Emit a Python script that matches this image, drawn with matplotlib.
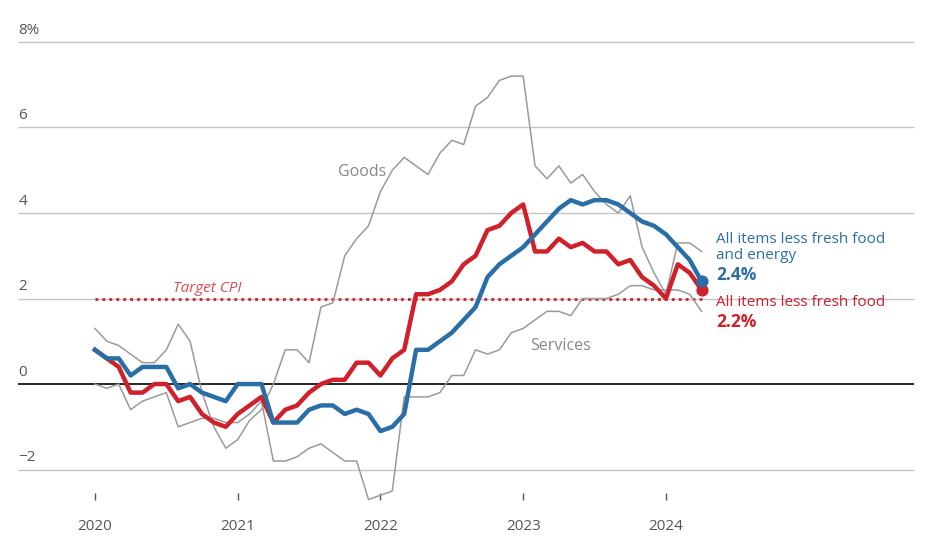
import matplotlib.pyplot as plt
import numpy as np

plt.rcParams['font.family'] = ['Open Sans', 'DejaVu Sans']

core = [0.8,0.6,0.4,-0.2,-0.2,0.0,0.0,-0.4,-0.3,-0.7,-0.9,-1.0,
        -0.7,-0.5,-0.3,-0.9,-0.6,-0.5,-0.2,0.0,0.1,0.1,0.5,0.5,
        0.2,0.6,0.8,2.1,2.1,2.2,2.4,2.8,3.0,3.6,3.7,4.0,
        4.2,3.1,3.1,3.4,3.2,3.3,3.1,3.1,2.8,2.9,2.5,2.3,
        2.0,2.8,2.6,2.2]
core_core = [0.8,0.6,0.6,0.2,0.4,0.4,0.4,-0.1,0.0,-0.2,-0.3,-0.4,
             0.0,0.0,0.0,-0.9,-0.9,-0.9,-0.6,-0.5,-0.5,-0.7,-0.6,-0.7,
             -1.1,-1.0,-0.7,0.8,0.8,1.0,1.2,1.5,1.8,2.5,2.8,3.0,
             3.2,3.5,3.8,4.1,4.3,4.2,4.3,4.3,4.2,4.0,3.8,3.7,
             3.5,3.2,2.9,2.4]
goods = [1.3,1.0,0.9,0.7,0.5,0.5,0.8,1.4,1.0,-0.2,-1.0,-1.5,
         -1.3,-0.85,-0.6,0.0,0.8,0.8,0.5,1.8,1.9,3.0,3.4,3.7,
         4.5,5.0,5.3,5.1,4.9,5.4,5.7,5.6,6.5,6.7,7.1,7.2,
         7.2,5.1,4.8,5.1,4.7,4.9,4.5,4.2,4.0,4.4,3.2,2.6,
         2.1,3.3,3.3,3.1]
services = [0.0,-0.1,0.0,-0.6,-0.4,-0.3,-0.2,-1.0,-0.9,-0.8,-0.8,-0.9,
            -0.9,-0.7,-0.4,-1.8,-1.8,-1.7,-1.5,-1.4,-1.6,-1.8,-1.8,-2.7,
            -2.6,-2.5,-0.3,-0.3,-0.3,-0.2,0.2,0.2,0.8,0.7,0.8,1.2,
            1.3,1.5,1.7,1.7,1.6,2.0,2.0,2.0,2.1,2.3,2.3,2.2,
            2.2,2.2,2.1,1.7]
years = [2020, 2021, 2022, 2023, 2024]
yticks = [-2, 0, 2, 4, 6, 8]
ylabels = ['\u22122', '0', '2', '4', '6', '8%']

x = 2020 + np.arange(len(core)) / 12
blue = '#2a6ea8'
red = '#d0202a'
gray = '#9a9a9a'

fig = plt.figure(figsize=(9.3, 5.47), dpi=100)
ax = fig.add_axes([0, 0, 1, 1])
ax.set_xlim(2019.335, 2025.85)
ax.set_ylim(-3.81, 8.98)
ax.axis('off')

for t, l in zip(yticks, ylabels):
    if t == 0:
        ax.hlines(t, 2019.46, 2025.74, color='black', lw=1.2, zorder=1)
    else:
        ax.hlines(t, 2019.46, 2025.74, color='#c4c4c4', lw=1, zorder=1)
    ax.text(2019.465, t + 0.1, l, fontsize=11, color='#555555', va='bottom', ha='left')

for yr in years:
    ax.vlines(yr, -2.55, -2.72, color='#555555', lw=1)
    ax.text(yr, -3.32, str(yr), fontsize=11, color='#555555', ha='center', va='center')

ax.hlines(2, 2020, 2024.25, color=red, lw=2, linestyles=(0, (1, 1.5)), zorder=2)
ax.text(2020.55, 2.05, 'Target CPI', fontsize=11, color=red, style='italic', alpha=0.8, va='bottom')

ax.plot(x, goods, color=gray, lw=1.1, zorder=3)
ax.plot(x, services, color=gray, lw=1.1, zorder=3)
ax.text(2021.7, 4.95, 'Goods', fontsize=11.5, color='#888888', ha='left', va='center')
ax.text(2023.05, 0.9, 'Services', fontsize=11.5, color='#888888', ha='left', va='center')

ax.plot(x, core, color=red, lw=3.2, zorder=4)
ax.plot(x, core_core, color=blue, lw=3.2, zorder=5)
ax.scatter([x[-1]], [core[-1]], s=60, color=red, zorder=6)
ax.scatter([x[-1]], [core_core[-1]], s=60, color=blue, zorder=6)

ax.text(2024.35, 3.2, 'All items less fresh food\nand energy', fontsize=11, color=blue, va='center', linespacing=1.1)
ax.text(2024.35, 2.75, '2.4%', fontsize=12.5, color=blue, weight='bold', va='top')
ax.text(2024.35, 1.9, 'All items less fresh food', fontsize=11, color=red, va='center')
ax.text(2024.35, 1.65, '2.2%', fontsize=12.5, color=red, weight='bold', va='top')

fig.savefig('out.png', dpi=100)
